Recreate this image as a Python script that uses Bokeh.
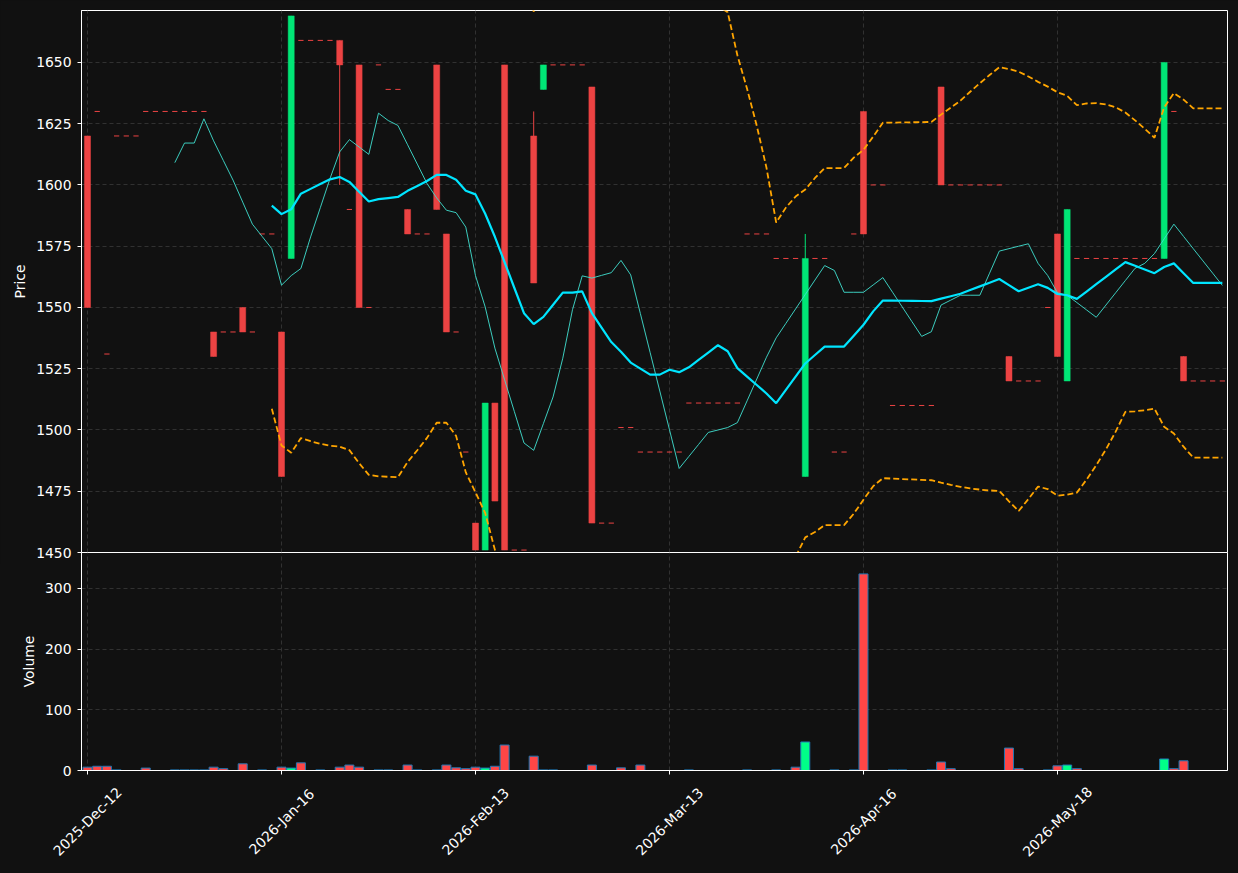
import math
import pandas as pd
from bokeh.plotting import figure
from bokeh.layouts import column
from bokeh.models import Range1d, FixedTicker, ColumnDataSource
from bokeh.core.properties import value
from bokeh.embed import file_html
from bokeh.resources import INLINE

# ---------------- data ----------------
opens = [1620, 1630, 1531, 1620, 1620, 1620, 1630, 1630, 1630, 1630,
         1630, 1630, 1630, 1540, 1540, 1540, 1550, 1540, 1580, 1580,
         1540, 1570, 1659, 1659, 1659, 1659, 1659, 1590, 1649, 1550,
         1649, 1639, 1639, 1590, 1580, 1580, 1649, 1580, 1540, 1491,
         1462, 1451, 1511, 1649, 1451, 1451, 1620, 1639, 1649, 1649,
         1649, 1649, 1640, 1462, 1462, 1501, 1501, 1491, 1491, 1491,
         1491, 1491, 1511, 1511, 1511, 1511, 1511, 1511, 1580, 1580,
         1580, 1570, 1570, 1570, 1481, 1570, 1570, 1491, 1491, 1580,
         1630, 1600, 1600, 1510, 1510, 1510, 1510, 1510, 1640, 1600,
         1600, 1600, 1600, 1600, 1600, 1530, 1520, 1520, 1520, 1550,
         1580, 1520, 1570, 1570, 1570, 1570, 1570, 1570, 1570, 1570,
         1570, 1570, 1630, 1530, 1520, 1520, 1520, 1520]
highs = [1620, 1630, 1531, 1620, 1620, 1620, 1630, 1630, 1630, 1630,
         1630, 1630, 1630, 1540, 1540, 1540, 1550, 1540, 1580, 1580,
         1540, 1669, 1659, 1659, 1659, 1659, 1659, 1590, 1649, 1550,
         1649, 1639, 1639, 1590, 1580, 1580, 1649, 1580, 1540, 1491,
         1462, 1511, 1511, 1649, 1451, 1451, 1630, 1649, 1649, 1649,
         1649, 1649, 1640, 1462, 1462, 1501, 1501, 1491, 1491, 1491,
         1491, 1491, 1511, 1511, 1511, 1511, 1511, 1511, 1580, 1580,
         1580, 1570, 1570, 1570, 1580, 1570, 1570, 1491, 1491, 1580,
         1630, 1600, 1600, 1510, 1510, 1510, 1510, 1510, 1640, 1600,
         1600, 1600, 1600, 1600, 1600, 1530, 1520, 1520, 1520, 1550,
         1580, 1590, 1570, 1570, 1570, 1570, 1570, 1570, 1570, 1570,
         1570, 1650, 1630, 1530, 1520, 1520, 1520, 1520]
lows = [1550, 1630, 1531, 1620, 1620, 1620, 1630, 1630, 1630, 1630,
        1630, 1630, 1630, 1530, 1540, 1540, 1540, 1540, 1580, 1580,
        1481, 1570, 1659, 1659, 1659, 1659, 1600, 1590, 1550, 1550,
        1649, 1639, 1639, 1580, 1580, 1580, 1590, 1540, 1540, 1491,
        1451, 1451, 1471, 1451, 1451, 1451, 1560, 1639, 1649, 1649,
        1649, 1649, 1462, 1462, 1462, 1501, 1501, 1491, 1491, 1491,
        1491, 1491, 1511, 1511, 1511, 1511, 1511, 1511, 1580, 1580,
        1580, 1570, 1570, 1570, 1481, 1570, 1570, 1491, 1491, 1580,
        1580, 1600, 1600, 1510, 1510, 1510, 1510, 1510, 1600, 1600,
        1600, 1600, 1600, 1600, 1600, 1520, 1520, 1520, 1520, 1550,
        1530, 1520, 1570, 1570, 1570, 1570, 1570, 1570, 1570, 1570,
        1570, 1570, 1630, 1520, 1520, 1520, 1520, 1520]
closes = [1550, 1630, 1531, 1620, 1620, 1620, 1630, 1630, 1630, 1630,
          1630, 1630, 1630, 1530, 1540, 1540, 1540, 1540, 1580, 1580,
          1481, 1669, 1659, 1659, 1659, 1659, 1649, 1590, 1550, 1550,
          1649, 1639, 1639, 1580, 1580, 1580, 1590, 1540, 1540, 1491,
          1451, 1511, 1471, 1451, 1451, 1451, 1560, 1649, 1649, 1649,
          1649, 1649, 1462, 1462, 1462, 1501, 1501, 1491, 1491, 1491,
          1491, 1491, 1511, 1511, 1511, 1511, 1511, 1511, 1580, 1580,
          1580, 1570, 1570, 1570, 1570, 1570, 1570, 1491, 1491, 1580,
          1580, 1600, 1600, 1510, 1510, 1510, 1510, 1510, 1600, 1600,
          1600, 1600, 1600, 1600, 1600, 1520, 1520, 1520, 1520, 1550,
          1530, 1590, 1570, 1570, 1570, 1570, 1570, 1570, 1570, 1570,
          1570, 1650, 1630, 1520, 1520, 1520, 1520, 1520]
volumes = [5.5, 7, 7, 1, 0, 0, 4, 0, 0, 1,
           1, 1, 1, 5.5, 3, 0, 11, 0, 1, 0,
           5.5, 4, 12.6, 0, 1, 0, 5.5, 9, 5.5, 0,
           1, 1, 0, 9, 1, 0, 1, 9, 4.5, 3,
           5.5, 4, 7, 42, 0, 0, 23.6, 1, 1, 0,
           0, 0, 9, 0, 0, 4.4, 0, 9, 0, 0,
           0, 0, 1, 0, 0, 0, 0, 0, 1, 0,
           0, 1, 0, 5.5, 47, 0, 0, 1, 0, 1,
           324, 0, 0, 1, 1, 0, 0, 1, 14, 3,
           0, 0, 0, 0, 0, 37, 3, 0, 0, 1,
           7.7, 9, 3, 0, 0, 0, 0, 0, 0, 0,
           0, 19, 3, 16, 0, 0, 0, 0]
tick_positions = [0, 20, 40, 60, 80, 100]
tick_labels = ["2025-Dec-12", "2026-Jan-16", "2026-Feb-13",
               "2026-Mar-13", "2026-Apr-16", "2026-May-18"]
price_ticks = [1450, 1475, 1500, 1525, 1550, 1575, 1600, 1625, 1650]
volume_ticks = [0, 100, 200, 300]

# ---------------- styling ----------------
BG = "#111111"
UP = "#00e676"
DOWN = "#ec4343"
VUP = "#00ff88"
VDOWN = "#ff4646"
VEDGE = "#1f77b4"
GRID = "#3a3a3a"
FONT = "DejaVu Sans"
FS = "13.9px"

n = len(closes)
idx = list(range(n))
df = pd.DataFrame({"x": idx, "open": opens, "high": highs, "low": lows,
                   "close": closes, "volume": volumes})
df["up"] = df["close"] > df["open"]
df["color"] = [UP if u else DOWN for u in df["up"]]
df["vcolor"] = [VUP if u else VDOWN for u in df["up"]]
df["top"] = df[["open", "close"]].max(axis=1)
df["bottom"] = df[["open", "close"]].min(axis=1)
df["ma10"] = df["close"].rolling(10).mean()
df["ma20"] = df["close"].rolling(20).mean()
std20 = df["close"].rolling(20).std(ddof=0)
df["bb_up"] = df["ma20"] + 2 * std20
df["bb_lo"] = df["ma20"] - 2 * std20

body = df[df["open"] != df["close"]].copy()
doji = df[df["open"] == df["close"]].copy()
doji["x0"] = doji["x"] - 0.27
doji["x1"] = doji["x"] + 0.27

FRAME_W, LEFT, RIGHT = 1146, 81, 11
X0, X1 = -0.62, 117.53
x_range = Range1d(X0, X1)


def style(p):
    p.background_fill_color = BG
    p.border_fill_color = BG
    p.outline_line_color = "white"
    p.outline_line_width = 1
    for ax in p.yaxis + p.xaxis:
        ax.axis_line_color = "white"
        ax.major_tick_line_color = "white"
        ax.minor_tick_line_color = None
        ax.major_tick_out = 4
        ax.major_tick_in = 0
        ax.major_label_text_color = "white"
        ax.major_label_text_font = FONT
        ax.major_label_text_font_size = FS
        ax.axis_label_text_color = "white"
        ax.axis_label_text_font = FONT
        ax.axis_label_text_font_size = FS
        ax.axis_label_text_font_style = "normal"
    for g in p.xgrid + p.ygrid:
        g.grid_line_color = GRID
        g.grid_line_dash = "4 3"
        g.grid_line_width = 0.8


OVERLAP = 12
BOTTOM = 103

# ---------------- price panel ----------------
p1 = figure(frame_width=FRAME_W, frame_height=542, x_range=x_range,
            y_range=Range1d(1450, 1671.2), output_backend="svg",
            toolbar_location=None, min_border_left=LEFT, min_border_right=RIGHT,
            min_border_top=10, min_border_bottom=OVERLAP)
p1.xaxis.visible = False
p1.xgrid.ticker = FixedTicker(ticks=tick_positions)
p1.yaxis.ticker = FixedTicker(ticks=price_ticks)
p1.yaxis.axis_label = "Price"
p1.yaxis.major_label_standoff = 6
style(p1)

src = ColumnDataSource(df)
p1.segment(x0="x", x1="x", y0="low", y1="high", color="color",
           line_width=1, source=src)
p1.vbar(x="x", width=0.62, top="top", bottom="bottom",
        fill_color="color", line_color="color", line_width=0.5,
        source=ColumnDataSource(body))
p1.segment(x0="x0", x1="x1", y0="close", y1="close", color=DOWN,
           line_width=1, source=ColumnDataSource(doji))
p1.line("x", "ma10", source=src, line_color="#40e0d0", line_width=1,
        line_alpha=0.9)
p1.line("x", "ma20", source=src, line_color="#00e5ff", line_width=2.2)
p1.line("x", "bb_up", source=src, line_color="orange", line_width=1.8,
        line_dash="6 3")
p1.line("x", "bb_lo", source=src, line_color="orange", line_width=1.8,
        line_dash="6 3")

# ---------------- volume panel ----------------
p2 = figure(frame_width=FRAME_W, frame_height=218, x_range=x_range,
            y_range=Range1d(0, 359.3), output_backend="svg",
            toolbar_location=None, min_border_left=LEFT, min_border_right=RIGHT,
            min_border_top=0, min_border_bottom=BOTTOM)
p2.xaxis.ticker = FixedTicker(ticks=tick_positions)
p2.xaxis.major_label_overrides = {t: "" for t in tick_positions}
p2.yaxis.ticker = FixedTicker(ticks=volume_ticks)
p2.yaxis.axis_label = "Volume"
p2.yaxis.major_label_standoff = 6
style(p2)
p2.border_fill_alpha = 0
p2.vbar(x="x", width=0.93, top="volume", bottom=0, fill_color="vcolor",
        line_color=VEDGE, line_width=1, source=src)
p2.styles = {"margin-top": f"-{OVERLAP}px"}

layout = column(p1, p2, spacing=0)
layout.styles = {"background-color": BG}

# ---------------- date labels: separate transparent strip over the bottom border ----------------
ppu = FRAME_W / (X1 - X0)
p3 = figure(frame_width=FRAME_W + LEFT + RIGHT, frame_height=BOTTOM,
            x_range=Range1d(X0 - LEFT / ppu, X1 + RIGHT / ppu),
            y_range=Range1d(0, 1), output_backend="svg",
            toolbar_location=None, x_axis_location=None, y_axis_location=None,
            min_border_left=0, min_border_right=0, min_border_top=0,
            min_border_bottom=0)
p3.grid.visible = False
p3.outline_line_color = None
p3.background_fill_alpha = 0
p3.border_fill_alpha = 0
date_src = ColumnDataSource({"x": tick_positions, "y": [1] * len(tick_positions),
                             "label": tick_labels})
p3.text(x="x", y="y", text="label", source=date_src, angle=math.pi / 4,
        text_align="center", text_baseline="middle", y_offset=51,
        text_color="white", text_font=value(FONT), text_font_size=value(FS))
p3.styles = {"margin-top": f"-{BOTTOM}px"}

with open("out.html", "w") as f:
    f.write(file_html([layout, p3], INLINE))
